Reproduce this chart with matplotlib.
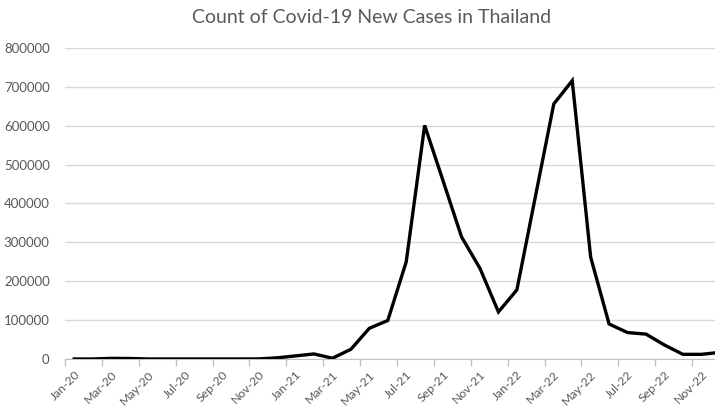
import matplotlib.pyplot as plt
import pandas as pd

# monthly new cases, Jan 2020 - Dec 2022
months = pd.date_range("2020-01-01", periods=36, freq="MS").strftime("%b-%y").tolist()
new_cases = [
    5, 30, 1600, 1300, 100, 100, 100, 100, 100, 100, 200, 3000,
    8000, 13000, 2000, 25000, 79000, 99000, 250000, 601000, 458000, 314000, 233000, 121000,
    178000, 417000, 656000, 716000, 262000, 90000, 68000, 64000, 36000, 12000, 12000, 17000,
]
y_ticks = [0, 100000, 200000, 300000, 400000, 500000, 600000, 700000, 800000]

grey = "#595959"
plt.rcParams["font.family"] = ["Lato", "DejaVu Sans"]

fig = plt.figure(figsize=(7.15, 4.07), dpi=100)
ax = fig.add_axes([65 / 715, 48 / 407, 664 / 715, 311 / 407])

x = list(range(len(months)))
ax.plot(x, new_cases, color="black", lw=2.4, solid_joinstyle="miter", zorder=3)

ax.set_xlim(-0.5, len(months) - 0.5)
ax.set_ylim(0, 800000)
ax.set_yticks(y_ticks)
ax.set_yticklabels([str(v) for v in y_ticks])
ax.yaxis.grid(True, color="#d9d9d9", lw=1)
ax.set_axisbelow(True)

# labels every second month, tick marks on the category boundaries
ax.set_xticks(x[::2])
ax.set_xticklabels(months[::2], rotation=45, ha="right", rotation_mode="anchor")
ax.set_xticks([i - 0.5 for i in x[::2]], minor=True)
ax.tick_params(axis="x", which="major", length=0, pad=7, labelsize=8.8, labelcolor=grey)
ax.tick_params(axis="x", which="minor", length=5, color="#bfbfbf", width=1)
ax.tick_params(axis="y", length=0, pad=11, labelsize=9.5, labelcolor=grey)

for side in ("left", "right", "top"):
    ax.spines[side].set_visible(False)
ax.spines["bottom"].set_color("#bfbfbf")

fig.text(0.52, 0.958, "Count of Covid-19 New Cases in Thailand",
         ha="center", va="center", fontsize=14, color=grey)

fig.savefig("out.png", dpi=100)
